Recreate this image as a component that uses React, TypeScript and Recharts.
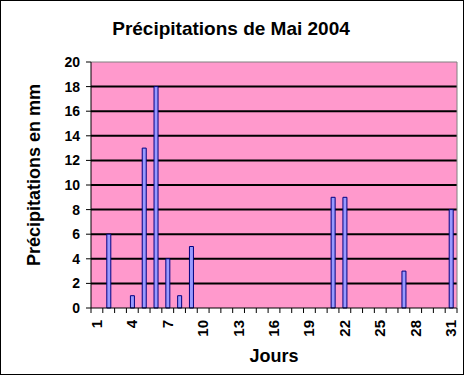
import React from "react"
import { BarChart, Bar, XAxis, YAxis, CartesianGrid, ReferenceLine } from "recharts"

const days = Array.from({ length: 31 }, (_, i) => String(i + 1))
const rainfall = [0, 6, 0, 1, 13, 18, 4, 1, 5, 0, 0, 0, 0, 0, 0, 0, 0, 0, 0, 0, 9, 9, 0, 0, 0, 0, 3, 0, 0, 0, 8]
const yTicks = [0, 2, 4, 6, 8, 10, 12, 14, 16, 18, 20]
const gridValues = [2, 4, 6, 8, 10, 12, 14, 16, 18]

const data = days.map((d, i) => ({ day: d, mm: rainfall[i] }))

const font = "'Liberation Sans', Arial, sans-serif"

// Excel puts the tick marks between days, and a label on every third day
function DayTick(props: any) {
    const { x, y, payload, index } = props
    const half = payload.offset ?? 0
    const last = index === days.length - 1
    return (
        <g>
            <line x1={x - half} x2={x - half} y1={y} y2={y + 5} stroke="#000" />
            {last && <line x1={x + half} x2={x + half} y1={y} y2={y + 5} stroke="#000" />}
            {index % 3 === 0 && (
                <text
                    transform={`translate(${x + 5},${y + 12}) rotate(-90)`}
                    textAnchor="end"
                    fontSize={15}
                    fontWeight="bold"
                    fontFamily={font}
                    fill="#000"
                >
                    {payload.value}
                </text>
            )}
        </g>
    )
}

export default function App() {
    return (
        <div
            style={{
                position: "absolute",
                left: 0,
                top: 0,
                width: 464,
                height: 376,
                background: "#fff",
                fontFamily: font,
            }}
        >
            <div
                style={{
                    position: "absolute",
                    left: 0,
                    top: 0,
                    width: 462,
                    height: 373,
                    border: "1px solid #000",
                }}
            />
            <div
                style={{
                    position: "absolute",
                    left: 0,
                    top: 18,
                    width: 464,
                    textAlign: "center",
                    fontSize: 19,
                    fontWeight: "bold",
                }}
            >
                <span style={{ position: "relative", left: -1 }}>Précipitations de Mai 2004</span>
            </div>
            <BarChart
                width={464}
                height={376}
                data={data}
                margin={{ top: 62, right: 0, bottom: 0, left: 0 }}
                barCategoryGap={0}
                style={{ position: "absolute", left: 0, top: 0 }}
            >
                <CartesianGrid
                    vertical={false}
                    horizontalValues={gridValues}
                    stroke="#000"
                    strokeWidth={2}
                    fill="#ff99cc"
                    fillOpacity={1}
                />
                <ReferenceLine y={20} stroke="#808080" strokeWidth={1} />
                <XAxis
                    dataKey="day"
                    interval={0}
                    tick={<DayTick />}
                    tickLine={false}
                    tickSize={0}
                    tickMargin={0}
                    axisLine={{ stroke: "#000" }}
                    height={68}
                    label={{
                        value: "Jours",
                        position: "insideBottom",
                        offset: 14,
                        fontSize: 18,
                        fontWeight: "bold",
                        fill: "#000",
                        fontFamily: font,
                    }}
                />
                <YAxis
                    domain={[0, 20]}
                    ticks={yTicks}
                    interval={0}
                    width={91}
                    tickSize={5}
                    tickMargin={6}
                    tickLine={{ stroke: "#000" }}
                    axisLine={{ stroke: "#000" }}
                    tick={{ fontSize: 14, fontWeight: "bold", fill: "#000", fontFamily: font }}
                    label={{
                        value: "Précipitations en mm",
                        angle: -90,
                        position: "insideLeft",
                        offset: 34,
                        dy: 81,
                        fontSize: 18,
                        fontWeight: "bold",
                        fill: "#000",
                        fontFamily: font,
                    }}
                />
                <YAxis
                    yAxisId="right"
                    orientation="right"
                    width={7}
                    tick={false}
                    tickLine={false}
                    axisLine={{ stroke: "#808080" }}
                />
                <Bar dataKey="mm" fill="#9999ff" stroke="#000080" strokeWidth={1} barSize={4} isAnimationActive={false} />
            </BarChart>
        </div>
    )
}
